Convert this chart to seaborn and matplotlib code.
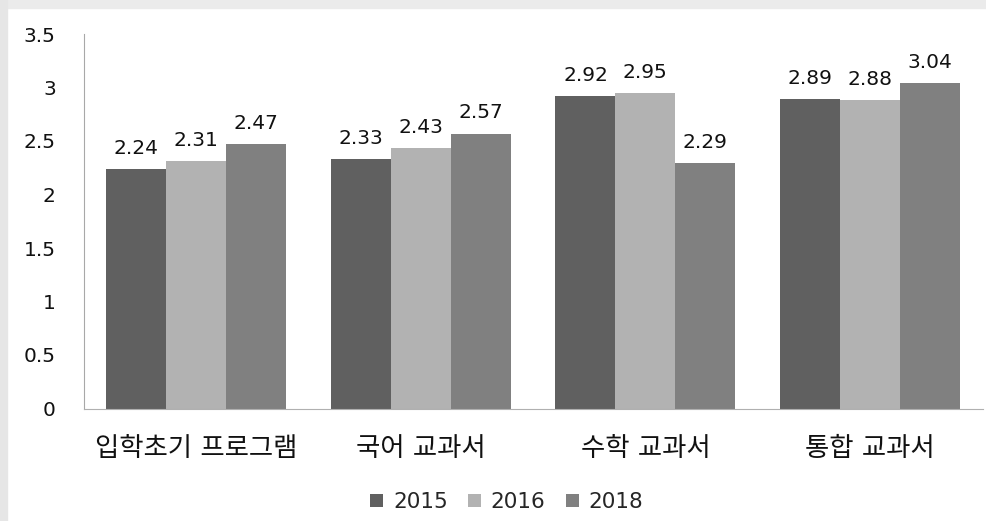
import pandas as pd
import matplotlib
matplotlib.use('Agg')
import matplotlib.pyplot as plt
from matplotlib.patches import Rectangle
import seaborn as sns

# 데이터
categorias = ['입학초기 프로그램', '국어 교과서', '수학 교과서', '통합 교과서']
anios = ['2015', '2016', '2018']
valores_2015 = [2.24, 2.33, 2.92, 2.89]
valores_2016 = [2.31, 2.43, 2.95, 2.88]
valores_2018 = [2.47, 2.57, 2.29, 3.04]
colores = ['#606060', '#b2b2b2', '#808080']
yticks = [0, 0.5, 1, 1.5, 2, 2.5, 3, 3.5]

df = pd.DataFrame({
    'categoria': categorias * 3,
    'anio': [a for a in anios for _ in categorias],
    'valor': valores_2015 + valores_2016 + valores_2018,
})

sns.set_style('white')
plt.rcParams['font.family'] = ['DejaVu Sans', 'Noto Sans CJK KR']

fig = plt.figure(figsize=(9.86, 5.21), dpi=100)
fig.patch.set_facecolor('white')
# marco gris claro (arriba e izquierda)
fig.patches.append(Rectangle((0, 1 - 8 / 521), 1, 8 / 521, transform=fig.transFigure,
                             color='#ebebeb', zorder=0))
fig.patches.append(Rectangle((0, 0), 7 / 986, 1, transform=fig.transFigure,
                             color='#e6e6e6', zorder=0))

ax = fig.add_axes([83.5 / 986, 112.5 / 521, 899 / 986, 374.5 / 521])
sns.barplot(data=df, x='categoria', y='valor', hue='anio', palette=colores,
            saturation=1, width=0.8, linewidth=0, ax=ax)

for cont in ax.containers:
    ax.bar_label(cont, fmt='%.2f', padding=8, fontsize=14.5, color='#111111')

ax.set_ylim(0, 3.5)
ax.set_yticks(yticks)
ax.set_yticklabels([f'{t:g}' for t in yticks], fontsize=14.5, color='#111111')
ax.tick_params(axis='y', length=0, pad=20)
ax.tick_params(axis='x', length=0, pad=20, labelsize=19, labelcolor='#111111')
ax.set_xlabel('')
ax.set_ylabel('')
sns.despine(ax=ax, top=True, right=True)
ax.spines['left'].set_color('#a8a8a8')
ax.spines['bottom'].set_color('#b0b0b0')

handles, labels = ax.get_legend_handles_labels()
ax.get_legend().remove()
fig.legend(handles, labels, loc='center', bbox_to_anchor=(0.514, 1 - 502 / 521),
           ncol=3, frameon=False, fontsize=15.5, handlelength=0.6, handleheight=0.6,
           handletextpad=0.45, columnspacing=0.95)

fig.savefig('out.png', dpi=100)
